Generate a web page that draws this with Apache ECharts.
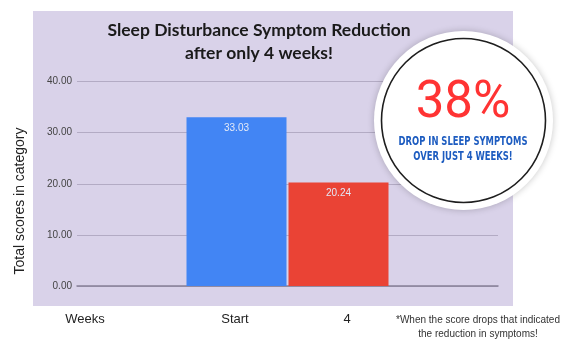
<!DOCTYPE html>
<html>
<head>
<meta charset="utf-8">
<script src="https://cdn.jsdelivr.net/npm/echarts@6/dist/echarts.min.js"></script>
<style>html,body{margin:0;padding:0;background:#fff;}#c{width:573px;height:356px;}</style>
</head>
<body>
<div id="c"></div>
<script>
const titleLines = ['Sleep Disturbance Symptom Reduction', 'after only 4 weeks!'];
const categories = ['Weeks'];
const seriesNames = ['Start', '4'];
const startValues = [33.03];
const week4Values = [20.24];
const xLabels = ['Weeks', 'Start', '4'];
const yTicks = [0, 10, 20, 30, 40];
const yAxisTitle = 'Total scores in category';
const badgeBig = '38%';
const badgeSmall = ['DROP IN SLEEP SYMPTOMS', 'OVER JUST 4 WEEKS!'];
const footnote = ['*When the score drops that indicated', 'the reduction in symptoms!'];

const chart = echarts.init(document.getElementById('c'), null, {renderer: 'canvas'});
const labelCommon = {
  show: true, position: 'insideTop', distance: 6,
  color: '#e3e9f7', fontSize: 10, fontFamily: 'Liberation Sans, Arial',
  formatter: p => p.value.toFixed(2)
};
chart.setOption({
  animation: false,
  backgroundColor: '#ffffff',
  title: {
    text: titleLines.join('\n'),
    left: 254, top: 14, textAlign: 'center',
    textStyle: {fontFamily: 'Lato', fontWeight: 'bold', fontSize: 17.5, color: '#1a1a1a', lineHeight: 23}
  },
  grid: {left: 77, right: 75, top: 81.5, bottom: 70},
  xAxis: {
    type: 'category', data: categories,
    axisLine: {show: true, lineStyle: {color: '#878096', width: 1.5}},
    axisTick: {show: false}, axisLabel: {show: false}
  },
  yAxis: {
    type: 'value', min: yTicks[0], max: yTicks[yTicks.length - 1], interval: 10,
    axisLine: {show: false}, axisTick: {show: false},
    axisLabel: {color: '#444', fontSize: 10, fontFamily: 'Liberation Sans, Arial', margin: 5,
      formatter: v => v.toFixed(2)},
    splitLine: {lineStyle: {color: '#b3abc4', width: 1}}
  },
  series: [
    {name: seriesNames[0], type: 'bar', data: startValues, barWidth: 100, barGap: '2%',
      itemStyle: {color: '#4285f4'}, label: labelCommon},
    {name: seriesNames[1], type: 'bar', data: week4Values, barWidth: 100,
      itemStyle: {color: '#ea4335'}, label: labelCommon}
  ],
  graphic: [
    {type: 'rect', z: -10, silent: true, shape: {x: 33, y: 11, width: 480, height: 295},
      style: {fill: '#d9d2e9'}},
    {type: 'text', x: 20, y: 201, rotation: Math.PI / 2, z: 10,
      style: {text: yAxisTitle, fill: '#222', fontSize: 14, fontFamily: 'Liberation Sans, Arial',
        textAlign: 'center', textVerticalAlign: 'middle'}},
    {type: 'text', x: 85, y: 319, style: {text: xLabels[0], fill: '#222', fontSize: 13, fontFamily: 'Liberation Sans, Arial', textAlign: 'center', textVerticalAlign: 'middle'}},
    {type: 'text', x: 235, y: 319, style: {text: xLabels[1], fill: '#222', fontSize: 13, fontFamily: 'Liberation Sans, Arial', textAlign: 'center', textVerticalAlign: 'middle'}},
    {type: 'text', x: 347, y: 319, style: {text: xLabels[2], fill: '#222', fontSize: 13, fontFamily: 'Liberation Sans, Arial', textAlign: 'center', textVerticalAlign: 'middle'}},
    {type: 'text', x: 478, y: 327, style: {text: footnote.join('\n'), fill: '#333', fontSize: 10, lineHeight: 14, fontFamily: 'Liberation Sans, Arial', textAlign: 'center', textVerticalAlign: 'middle'}},
    {type: 'circle', z: 20, shape: {cx: 463.5, cy: 120.5, r: 89.5},
      style: {fill: '#ffffff', shadowBlur: 7, shadowColor: 'rgba(0,0,0,0.22)'}},
    {type: 'circle', z: 21, shape: {cx: 463.5, cy: 120.5, r: 82},
      style: {fill: 'none', stroke: '#1e1e1e', lineWidth: 1.6}},
    {type: 'text', z: 22, x: 463, y: 104, style: {text: badgeBig, fill: '#ff3333', fontSize: 51, fontFamily: 'Roboto', textAlign: 'center', textVerticalAlign: 'middle'}},
    {type: 'text', z: 22, x: 463, y: 149.5, scaleX: 0.78, style: {text: badgeSmall.join('\n'), fill: '#1d5cc0', fontSize: 12, lineHeight: 15, fontWeight: 'bold', fontFamily: 'DejaVu Sans Condensed', textAlign: 'center', textVerticalAlign: 'middle'}}
  ]
});
</script>
</body>
</html>
